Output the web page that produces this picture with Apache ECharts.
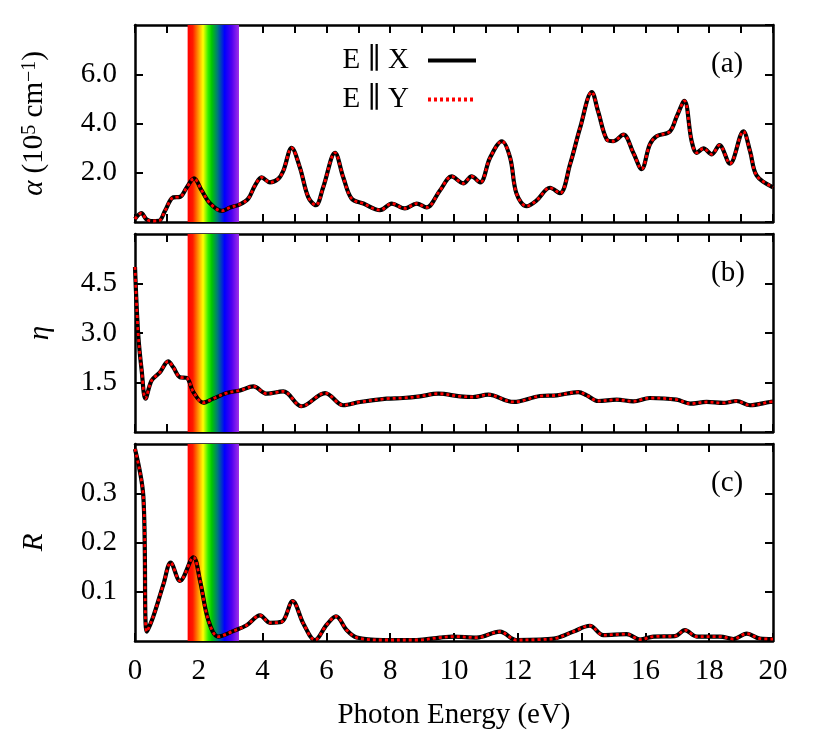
<!DOCTYPE html>
<html><head><meta charset="utf-8">
<script src="https://cdn.jsdelivr.net/npm/echarts@6/dist/echarts.min.js"></script>
<style>html,body{margin:0;padding:0;background:#fff}#c{width:832px;height:749px}</style>
</head><body><div id="c"></div>
<script>
// ---- data ----
const energyA = [0,0.2,0.35,0.5,0.75,0.94,1.2,1.41,1.62,1.85,2.09,2.35,2.72,2.98,3.29,3.55,3.76,3.97,4.23,4.49,4.65,4.91,5.17,5.43,5.67,5.9,6.27,6.53,6.79,7.16,7.68,8.05,8.46,8.83,9.14,9.56,9.93,10.29,10.55,10.82,11.13,11.5,11.76,11.96,12.28,12.59,13.01,13.32,13.64,13.95,14.32,14.52,14.79,14.99,15.31,15.62,15.88,16.14,16.35,16.77,16.98,17.22,17.45,17.61,17.82,18.08,18.32,18.65,19.07,19.28,19.49,20];
const alphaValues = [0.12,0.36,0.12,0.04,0.05,0.45,1.0,1.02,1.4,1.77,1.28,0.76,0.45,0.59,0.72,0.95,1.48,1.81,1.61,1.75,2.08,3.01,2.21,1.01,0.68,1.41,2.81,1.81,0.95,0.75,0.48,0.75,0.55,0.75,0.59,1.28,1.85,1.57,1.85,1.61,2.61,3.28,2.61,1.15,0.64,0.88,1.39,1.17,2.35,3.81,5.28,4.48,3.35,3.28,3.55,2.81,2.15,3.15,3.48,3.68,4.28,4.92,3.28,2.81,2.99,2.75,3.12,2.37,3.68,2.88,1.88,1.41];

const energyB = [0,0.1,0.21,0.33,0.52,0.78,1.04,1.2,1.41,1.62,1.83,2.14,2.45,2.87,3.29,3.71,4.13,4.65,5.22,5.96,6.53,7.05,7.89,8.4,8.93,9.51,10.19,10.6,11.07,11.86,12.7,13.22,13.9,14.15,14.52,15.1,15.62,16.14,16.98,17.4,17.92,18.44,18.86,19.28,19.9,20];
const etaValues = [5.0,2.96,1.86,1.01,1.56,1.81,2.14,1.96,1.66,1.64,1.21,0.89,1.01,1.18,1.26,1.38,1.16,1.23,0.78,1.18,0.81,0.91,1.01,1.03,1.08,1.16,1.08,1.06,1.13,0.91,1.09,1.11,1.21,1.12,0.94,0.98,0.93,1.03,0.98,0.86,0.91,0.88,0.94,0.81,0.91,0.92];

const energyC = [0,0.26,0.37,0.57,0.89,1.12,1.41,1.83,2.04,2.3,2.61,3.08,3.5,3.92,4.23,4.6,4.94,5.28,5.64,6.01,6.3,6.64,6.95,7.78,8.83,9.56,9.98,10.71,11.44,11.96,12.7,13.22,13.74,14.26,14.68,15.41,15.83,16.25,16.93,17.24,17.61,18.34,18.76,19.18,19.59,20];
const reflValues = [0.39,0.295,0.019,0.049,0.115,0.159,0.122,0.17,0.122,0.042,0.009,0.02,0.032,0.052,0.037,0.039,0.081,0.035,0.002,0.033,0.05,0.022,0.007,0.002,0.002,0.007,0.009,0.007,0.019,0.002,0.003,0.006,0.019,0.031,0.012,0.014,0.003,0.009,0.01,0.022,0.009,0.009,0.004,0.015,0.005,0.004];

const seriesNames = ['E \u2225 X', 'E \u2225 Y'];
const panelTags = ['(a)', '(b)', '(c)'];
const visibleBand = [1.65, 3.26];
const yRanges = [[0, 8, 2], [0, 6, 1.5], [0, 0.4, 0.1]];
const xTickSteps = [1, 1, 2];
const xAxisTitle = 'Photon Energy (eV)';

// ---- styling ----
const FONT = '"Liberation Serif", "DejaVu Serif", serif';
const FS = 29;
const grids = [
  {left: 135, top: 25, width: 638, height: 197},
  {left: 135, top: 234, width: 638, height: 198},
  {left: 135, top: 444, width: 638, height: 197}
];
const axisLine = {show: true, onZero: false, lineStyle: {color: '#000', width: 2.5}};
const axisTick = {show: true, inside: true, length: 8, lineStyle: {color: '#000', width: 2}};

const zip = (xs, ys) => xs.map((x, i) => [x, ys[i]]);
const panelData = [zip(energyA, alphaValues), zip(energyB, etaValues), zip(energyC, reflValues)];

const band = new echarts.graphic.LinearGradient(0, 0, 1, 0, [
  {offset: 0, color: '#ff0000'},
  {offset: 0.1, color: '#ff1a00'},
  {offset: 0.2, color: '#ff8c00'},
  {offset: 0.3, color: '#ffff00'},
  {offset: 0.4, color: '#33ee00'},
  {offset: 0.47, color: '#00c800'},
  {offset: 0.58, color: '#007a7a'},
  {offset: 0.72, color: '#0000ff'},
  {offset: 0.86, color: '#5000f0'},
  {offset: 1, color: '#a030e8'}
]);

const xAxes = [], yAxes = [], series = [];
const yNames = [
  '{g|\u03b1} {n|(10}{s|5}{n| cm}{s|\u22121}{n|)}',
  '{g|\u03b7}',
  '{g|R}'
];
const yNameGaps = [86, 80, 86];
for (let i = 0; i < 3; i++) {
  const last = i === 2;
  xAxes.push({
    gridIndex: i, type: 'value', position: 'bottom', min: 0, max: 20, interval: xTickSteps[i],
    axisLine, axisTick, splitLine: {show: false},
    axisLabel: {show: last, margin: 16, color: '#000', fontFamily: FONT, fontSize: FS,
      formatter: v => (v % 2 === 0 ? String(v) : '')},
    name: last ? xAxisTitle : '', nameLocation: 'middle', nameGap: 60,
    nameTextStyle: {color: '#000', fontFamily: FONT, fontSize: FS}
  });
  xAxes.push({
    gridIndex: i, type: 'value', position: 'top', min: 0, max: 20, interval: xTickSteps[i],
    axisLine, axisTick, splitLine: {show: false}, axisLabel: {show: false}
  });
  const [ymin, ymax, yint] = yRanges[i];
  yAxes.push({
    gridIndex: i, type: 'value', position: 'left', min: ymin, max: ymax, interval: yint,
    axisLine, axisTick, splitLine: {show: false},
    axisLabel: {showMinLabel: false, showMaxLabel: false, margin: 18, color: '#000',
      fontFamily: FONT, fontSize: FS, formatter: v => v.toFixed(1)},
    name: yNames[i], nameLocation: 'middle', nameGap: yNameGaps[i],
    nameTextStyle: {color: '#000', fontFamily: FONT, fontSize: FS,
      rich: {
        g: {fontFamily: FONT, fontSize: FS, fontStyle: 'italic', color: '#000'},
        n: {fontFamily: FONT, fontSize: FS, color: '#000'},
        s: {fontFamily: FONT, fontSize: 20, color: '#000', verticalAlign: 'top'}
      }}
  });
  yAxes.push({
    gridIndex: i, type: 'value', position: 'right', min: ymin, max: ymax, interval: yint,
    axisLine, axisTick, splitLine: {show: false}, axisLabel: {show: false}
  });
  series.push({
    name: seriesNames[0], type: 'line', xAxisIndex: 2 * i, yAxisIndex: 2 * i,
    data: panelData[i], symbol: 'none', smooth: 0.35,
    lineStyle: {color: '#000', width: 4.2}, itemStyle: {color: '#000'}, z: 3,
    markArea: {silent: true, itemStyle: {color: band, opacity: 1},
      data: [[{xAxis: visibleBand[0]}, {xAxis: visibleBand[1]}]]}
  });
  series.push({
    name: seriesNames[1], type: 'line', xAxisIndex: 2 * i, yAxisIndex: 2 * i,
    data: panelData[i], symbol: 'none', smooth: 0.35,
    lineStyle: {color: '#ff0000', width: 2.8, type: [3, 3]}, itemStyle: {color: '#ff0000'}, z: 4
  });
}

const option = {
  animation: false,
  backgroundColor: '#fff',
  grid: grids,
  xAxis: xAxes,
  yAxis: yAxes,
  series,
  legend: {
    data: [
      {name: seriesNames[0], lineStyle: {color: '#000', width: 4}},
      {name: seriesNames[1], lineStyle: {color: '#ff0000', width: 4, type: [3, 3]}}
    ],
    orient: 'vertical', right: 349, top: 41, align: 'right',
    itemWidth: 48, itemHeight: 14, itemGap: 10,
    itemStyle: {opacity: 0},
    textStyle: {color: '#000', fontFamily: FONT, fontSize: FS, padding: [0, 14, 0, 0]}
  },
  graphic: panelTags.map((t, i) => ({
    type: 'text', left: 711, top: grids[i].top + 25,
    style: {text: t, font: FS + 'px ' + FONT, fill: '#000'}
  }))
};
echarts.init(document.getElementById('c')).setOption(option);
</script></body></html>
